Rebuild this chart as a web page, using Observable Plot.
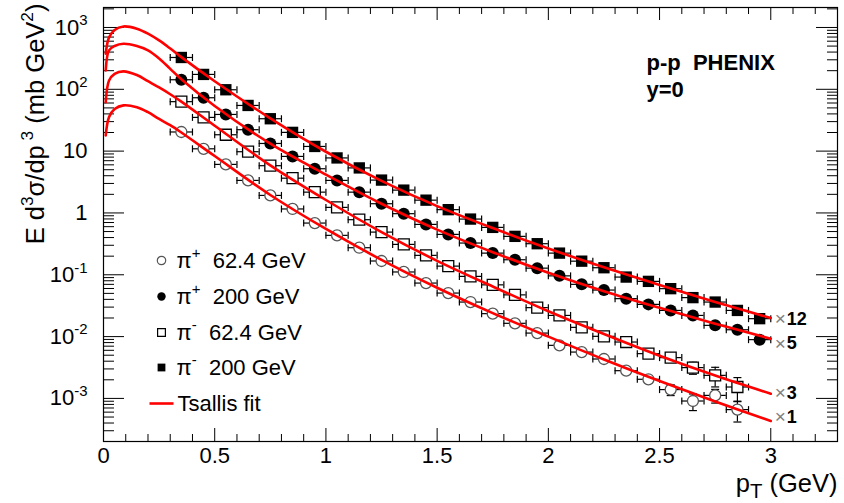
<!DOCTYPE html>
<html><head><meta charset="utf-8">
<script src="https://cdn.jsdelivr.net/npm/d3@7"></script>
<script src="https://cdn.jsdelivr.net/npm/@observablehq/plot@0.6"></script>
<style>
body{margin:0;background:#fff}
svg text{white-space:pre}
</style>
</head><body><div id="chart"></div>
<script>
// ---------- data ----------
const ptLow = [0.35,0.45,0.55,0.65,0.75,0.85,0.95,1.05,1.15,1.25,1.35,1.45,1.55,1.65,1.75,1.85,1.95,2.05,2.15,2.25,2.35,2.45,2.55,2.65,2.75,2.85];
const ptHigh = [0.35,0.45,0.55,0.65,0.75,0.85,0.95,1.05,1.15,1.25,1.35,1.45,1.55,1.65,1.75,1.85,1.95,2.05,2.15,2.25,2.35,2.45,2.55,2.65,2.75,2.85,2.95];
const binHalfWidth = 0.05;

// pi+ 62.4 GeV (x1)
const piPlus62 = [20.4,10.9,6.10,3.36,1.92,1.16,0.686,0.434,0.274,0.167,0.111,0.0734,0.0506,0.0362,0.0235,0.0164,0.0114,0.00722,0.00562,0.00434,0.00281,0.00204,0.00139,0.000908,0.00112,0.000659];
const errPiPlus62 = [0,0,0,0,0,0,0,0,0,0,0,0,0,0,0,0,0,0,0,0,0,0.08,0.2,0.3,0.25,0.37];
// pi- 62.4 GeV (x3)
const piMinus62 = [63.1,35.1,18.4,9.78,5.81,3.65,2.17,1.23,0.778,0.490,0.310,0.206,0.138,0.0942,0.0687,0.0473,0.0294,0.0220,0.0141,0.0101,0.00817,0.00530,0.00457,0.00315,0.00236,0.00153];
const errPiMinus62 = [0,0,0,0,0,0,0,0,0,0,0,0,0,0,0,0,0,0,0,0,0,0.08,0.15,0.22,0.35,0.42];
// pi+ 200 GeV (x5)
const piPlus200 = [142.7,73.0,39.2,22.2,13.3,8.21,5.19,3.36,2.17,1.41,0.973,0.653,0.450,0.326,0.224,0.175,0.128,0.0960,0.0700,0.0566,0.0411,0.0332,0.0265,0.0220,0.0152,0.0129,0.00893];
// pi- 200 GeV (x12)
const piMinus200 = [327,174,98.3,54.8,33.4,20.1,11.9,7.76,5.35,3.40,2.34,1.61,1.13,0.796,0.584,0.418,0.318,0.224,0.166,0.130,0.0918,0.0782,0.0596,0.0427,0.0362,0.0265,0.0195];

// Tsallis fit curves
const fitPt = [0.01,0.025,0.05,0.09,0.15,0.2,0.25,0.3,0.35,0.5,0.75,1.0,1.25,1.5,1.75,2.0,2.25,2.5,2.75,3.0];
const fitX12 = [376,692,912,1040,955,794,617,457,331,135,33.9,9.77,3.31,1.29,0.569,0.266,0.132,0.0684,0.0363,0.0200];
const fitX5 = [202,427,501,545,501,427,316,214,145,53.7,13.2,4.17,1.41,0.537,0.232,0.108,0.0543,0.0292,0.0162,0.00927];
const fitX3 = [61.7,139,178,195,170,135,107,83.2,63.1,25.7,5.89,1.62,0.490,0.168,0.0646,0.0257,0.0110,0.00490,0.00234,0.00119];
const fitX1 = [17.9,35.5,47.9,55.0,51.3,42.7,33.1,26.3,20.0,8.32,1.95,0.550,0.174,0.0617,0.0240,0.0100,0.00427,0.00191,0.000891,0.000431];

const scaleLabels = ["12","5","3","1"];
const legendLabels = ["π^{+}  62.4 GeV","π^{+}  200 GeV","π^{-}  62.4 GeV","π^{-}  200 GeV","Tsallis fit"];

// tick labels
const xMajor = [0,0.5,1,1.5,2,2.5,3];
const xMajorLabels = ["0","0.5","1","1.5","2","2.5","3"];
const yMajor = [1e-3,1e-2,1e-1,1,10,100,1000];
const yMajorLabels = ["10^{-3}","10^{-2}","10^{-1}","1","10","10^{2}","10^{3}"];

// ---------- layout ----------
const W = 844, H = 503, mL = 103, mR = 7, mT = 7, mB = 62;
const iw = W - mL - mR, ih = H - mT - mB;
const xDomain = [0, 3.3];
const yDomain = [2.01e-4, 2104];
const FONT = "Liberation Sans, Arial, Helvetica, sans-serif";

const xMinor = d3.range(1, 33).map(i => i / 10).filter(v => !xMajor.some(m => Math.abs(m - v) < 1e-9));
const yMinor = [];
for (let e = -4; e <= 3; e++) for (let k = 2; k <= 9; k++) {
  const v = k * Math.pow(10, e);
  if (v > yDomain[0] && v < yDomain[1]) yMinor.push(v);
}

// ---------- tables ----------
const mk = (pt, vals, errs) => pt.map((p, i) => ({pt: p, v: vals[i], e: errs ? errs[i] : 0}));
const sPP62 = mk(ptLow, piPlus62, errPiPlus62);
const sPM62 = mk(ptLow, piMinus62, errPiMinus62);
const sPP200 = mk(ptHigh, piPlus200);
const sPM200 = mk(ptHigh, piMinus200);
const allPts = [...sPP62, ...sPM62, ...sPP200, ...sPM200];
const withErr = allPts.filter(d => d.e > 0);

const fits = [fitX12, fitX5, fitX3, fitX1];
const fitData = fits.flatMap((f, s) => fitPt.map((p, i) => ({pt: p, v: f[i], s})));

// symbols
const vbar = {draw(ctx, size){ const r = Math.sqrt(size / Math.PI); ctx.moveTo(0, -r); ctx.lineTo(0, r); }};
const hbar = {draw(ctx, size){ const r = Math.sqrt(size / Math.PI); ctx.moveTo(-r, 0); ctx.lineTo(r, 0); }};

// styles
const scaleDy = [1, 5, -1, -4];
const legendRowDy = [253, 289, 325, 360, 396];

const marks = [];
// frame and ticks
marks.push(
  Plot.tickX(xMajor, {x: d => d, insetTop: ih - 13, stroke: "black"}),
  Plot.tickX(xMinor, {x: d => d, insetTop: ih - 7, stroke: "black"}),
  Plot.tickX(xMajor, {x: d => d, insetBottom: ih - 13, stroke: "black"}),
  Plot.tickX(xMinor, {x: d => d, insetBottom: ih - 7, stroke: "black"}),
  Plot.tickY(yMajor, {y: d => d, insetRight: iw - 21, stroke: "black"}),
  Plot.tickY(yMinor, {y: d => d, insetRight: iw - 11, stroke: "black"}),
  Plot.tickY(yMajor, {y: d => d, insetLeft: iw - 21, stroke: "black"}),
  Plot.tickY(yMinor, {y: d => d, insetLeft: iw - 10, stroke: "black"}),
  Plot.frame({stroke: "black", strokeWidth: 1.2})
);
// tick labels
marks.push(
  Plot.text(xMajor, {x: d => d, text: (d, i) => xMajorLabels[i], frameAnchor: "bottom", dy: 6, lineAnchor: "top", fontSize: 22}),
  Plot.text(yMajor, {y: d => d, text: (d, i) => yMajorLabels[i], frameAnchor: "left", dx: -16, textAnchor: "end", lineAnchor: "middle", fontSize: 22})
);
// axis titles
marks.push(
  Plot.text(["p_{T} (GeV)"], {frameAnchor: "bottom-right", dx: 0, dy: 50, textAnchor: "end", lineAnchor: "bottom", fontSize: 25.5}),
  Plot.text(["E d^{3}σ/dp^{ 3} (mb GeV^{2})"], {frameAnchor: "top-left", dx: -68, dy: -4, rotate: -90, textAnchor: "end", lineAnchor: "middle", fontSize: 25.5})
);
// horizontal error bars
marks.push(
  Plot.ruleY(allPts, {y: "v", x1: d => d.pt - binHalfWidth, x2: d => d.pt + binHalfWidth, stroke: "black", strokeWidth: 1.2}),
  Plot.dot(allPts, {x: d => d.pt - binHalfWidth, y: "v", symbol: vbar, r: 3.5, stroke: "black", strokeWidth: 1.2}),
  Plot.dot(allPts, {x: d => d.pt + binHalfWidth, y: "v", symbol: vbar, r: 3.5, stroke: "black", strokeWidth: 1.2}),
  // vertical error bars
  Plot.ruleX(withErr, {x: "pt", y1: d => d.v * (1 - d.e), y2: d => d.v * (1 + d.e), stroke: "black", strokeWidth: 1.2}),
  Plot.dot(withErr, {x: "pt", y: d => d.v * (1 - d.e), symbol: hbar, r: 4, stroke: "black", strokeWidth: 1.2}),
  Plot.dot(withErr, {x: "pt", y: d => d.v * (1 + d.e), symbol: hbar, r: 4, stroke: "black", strokeWidth: 1.2})
);
// markers
marks.push(
  Plot.dot(sPP62, {x: "pt", y: "v", r: 5.5, fill: "white", stroke: "#555", strokeWidth: 1.3}),
  Plot.dot(sPM62, {x: "pt", y: "v", symbol: "square", r: 6.2, fill: "white", stroke: "black", strokeWidth: 1.3}),
  Plot.dot(sPP200, {x: "pt", y: "v", r: 6, fill: "black"}),
  Plot.dot(sPM200, {x: "pt", y: "v", symbol: "square", r: 6.4, fill: "black"})
);
// fit curves
marks.push(
  Plot.line(fitData, {x: "pt", y: "v", z: "s", stroke: "#ff0000", strokeWidth: 2.6, curve: "catmull-rom"})
);
// scale-factor labels at curve ends
fits.forEach((f, s) => {
  const end = [{pt: fitPt[fitPt.length - 1], v: f[f.length - 1]}];
  marks.push(
    Plot.text(end, {x: "pt", y: "v", text: () => "×", dx: 4, dy: scaleDy[s], textAnchor: "start", lineAnchor: "middle", fill: "#808080", fontSize: 19}),
    Plot.text(end, {x: "pt", y: "v", text: () => scaleLabels[s], dx: 16, dy: scaleDy[s], textAnchor: "start", lineAnchor: "middle", fontWeight: "bold", fontSize: 18})
  );
});
// annotation
marks.push(
  Plot.text(["p-p  PHENIX"], {frameAnchor: "top-left", dx: 543, dy: 55, textAnchor: "start", lineAnchor: "middle", fontWeight: "bold", fontSize: 22}),
  Plot.text(["y=0"], {frameAnchor: "top-left", dx: 543, dy: 82, textAnchor: "start", lineAnchor: "middle", fontWeight: "bold", fontSize: 22})
);
// legend
const legendSymbols = [
  {symbol: "circle", fill: "white", stroke: "#555"},
  {symbol: "circle", fill: "black", stroke: "none"},
  {symbol: "square", fill: "white", stroke: "black"},
  {symbol: "square", fill: "black", stroke: "none"}
];
legendSymbols.forEach((st, i) => {
  marks.push(Plot.dot([0], {frameAnchor: "top-left", dx: 58, dy: legendRowDy[i], symbol: st.symbol, r: st.symbol === "square" ? 4.4 : 4.2, fill: st.fill, stroke: st.stroke, strokeWidth: 1.2}));
});
marks.push(Plot.dot([0], {frameAnchor: "top-left", dx: 58, dy: legendRowDy[4], symbol: hbar, r: 12, stroke: "#ff0000", strokeWidth: 2.6}));
legendLabels.forEach((lab, i) => {
  marks.push(Plot.text([lab], {frameAnchor: "top-left", dx: i === 4 ? 74 : 73, dy: legendRowDy[i], textAnchor: "start", lineAnchor: "middle", fontSize: 22}));
});

const chart = Plot.plot({
  width: W, height: H,
  marginLeft: mL, marginRight: mR, marginTop: mT, marginBottom: mB,
  style: {fontFamily: FONT, background: "white", color: "black"},
  x: {domain: xDomain, axis: null},
  y: {type: "log", domain: yDomain, axis: null},
  marks
});
document.getElementById("chart").appendChild(chart);

// turn ^{..} and _{..} markup into raised/lowered tspans (text stays text)
function richText(root) {
  const ns = "http://www.w3.org/2000/svg";
  root.querySelectorAll("text").forEach(t => {
    const s = t.textContent;
    if (!/[\^_]\{/.test(s)) return;
    const fs = parseFloat(getComputedStyle(t).fontSize) || 20;
    while (t.firstChild) t.removeChild(t.firstChild);
    const re = /([\^_])\{([^}]*)\}/g;
    let last = 0, m, cur = 0;
    const add = (str, size, target) => {
      const sp = document.createElementNS(ns, "tspan");
      sp.textContent = str;
      if (size) sp.setAttribute("font-size", size);
      const dy = target - cur;
      if (dy !== 0) sp.setAttribute("dy", dy);
      cur = target;
      t.appendChild(sp);
    };
    while ((m = re.exec(s))) {
      if (m.index > last) add(s.slice(last, m.index), null, 0);
      if (m[1] === "^") add(m[2], 0.68 * fs, -0.42 * fs);
      else add(m[2], 0.8 * fs, 0.24 * fs);
      last = re.lastIndex;
    }
    if (last < s.length) add(s.slice(last), null, 0);
  });
}
richText(chart);
</script>
</body></html>
